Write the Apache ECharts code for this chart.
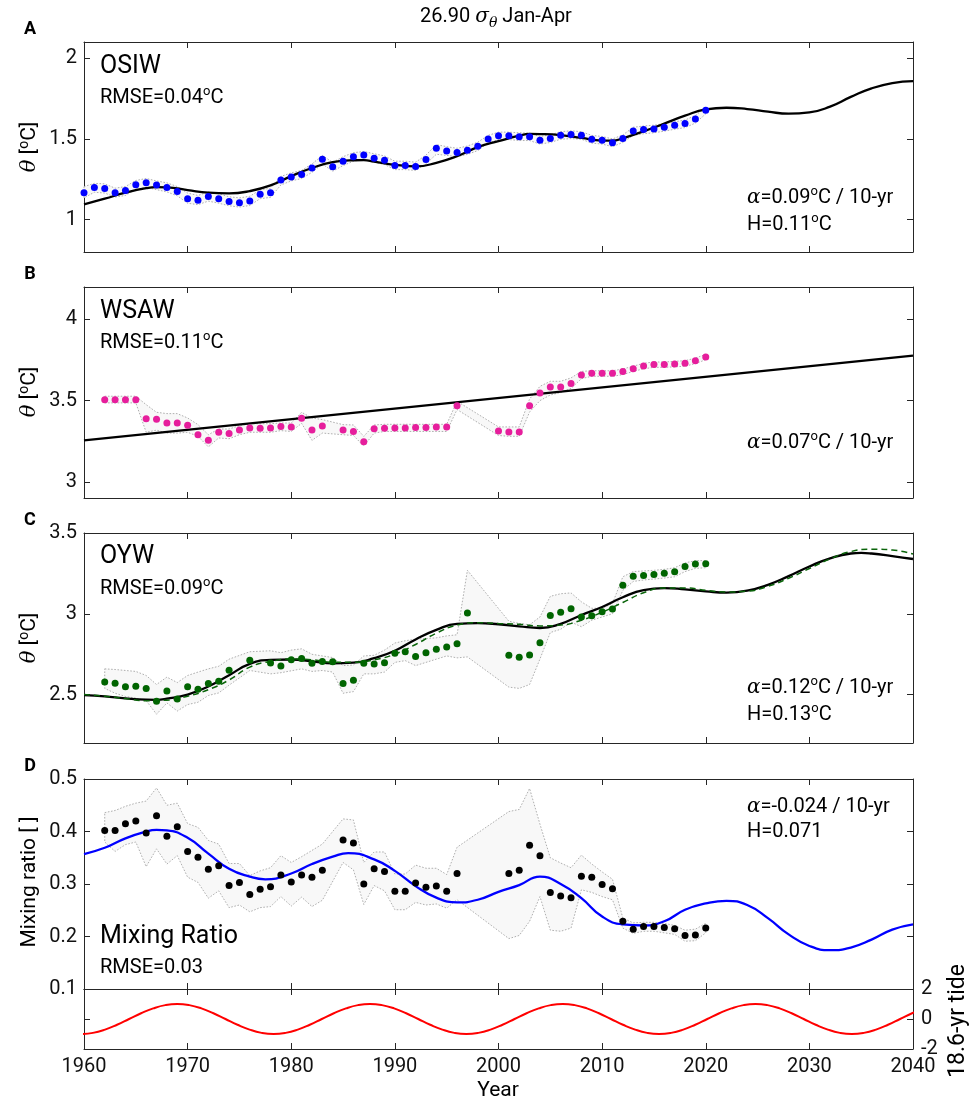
<!DOCTYPE html>
<html>
<head>
<meta charset="utf-8">
<script src="https://cdn.jsdelivr.net/npm/echarts@6/dist/echarts.min.js"></script>
<style>
  html, body { margin: 0; padding: 0; background: #fff; }
  #chart { width: 974px; height: 1109px; }
</style>
</head>
<body>
<div id="chart"></div>
<script>
// ---- data ----
const fitYears = [1960,1962,1964,1966,1968,1970,1972,1974,1976,1978,1980,1982,1984,1986,1988,1990,1992,1994,1996,1998,
  2000,2002,2004,2006,2008,2010,2012,2014,2016,2018,2020,2022,2024,2026,2028,2030,2032,2034,2036,2038,2040];

// A: OSIW
const yearsA = [1960,1961,1962,1963,1964,1965,1966,1967,1968,1969,1970,1971,1972,1973,1974,1975,1976,1977,1978,1979,
  1980,1981,1982,1983,1984,1985,1986,1987,1988,1989,1990,1991,1992,1993,1994,1995,1996,1997,1998,1999,
  2000,2001,2002,2003,2004,2005,2006,2007,2008,2009,2010,2011,2012,2013,2014,2015,2016,2017,2018,2019,2020];
const osiw = [1.167,1.200,1.193,1.167,1.180,1.216,1.228,1.214,1.200,1.175,1.130,1.120,1.144,1.130,1.113,1.105,1.115,1.158,1.167,1.245,
  1.265,1.280,1.320,1.374,1.327,1.362,1.389,1.400,1.380,1.368,1.335,1.335,1.330,1.372,1.442,1.426,1.416,1.430,1.455,1.500,
  1.520,1.520,1.514,1.514,1.492,1.502,1.523,1.527,1.523,1.498,1.492,1.477,1.502,1.549,1.558,1.562,1.572,1.584,1.595,1.623,1.677];
const osiwHi = [1.205,1.225,1.222,1.195,1.205,1.243,1.255,1.240,1.228,1.205,1.165,1.150,1.172,1.160,1.142,1.135,1.145,1.185,1.195,1.268,
  1.290,1.305,1.345,1.398,1.355,1.390,1.415,1.422,1.408,1.395,1.362,1.362,1.356,1.400,1.465,1.452,1.442,1.456,1.480,1.522,
  1.542,1.542,1.538,1.536,1.515,1.525,1.545,1.550,1.545,1.522,1.515,1.500,1.525,1.572,1.580,1.585,1.595,1.606,1.617,1.645,1.695];
const osiwLo = [1.135,1.170,1.165,1.140,1.150,1.188,1.200,1.186,1.172,1.148,1.102,1.093,1.115,1.102,1.086,1.078,1.088,1.130,1.138,1.215,
  1.240,1.255,1.293,1.345,1.300,1.335,1.362,1.374,1.355,1.342,1.310,1.310,1.305,1.345,1.405,1.398,1.390,1.404,1.428,1.475,
  1.496,1.496,1.490,1.490,1.468,1.478,1.498,1.502,1.498,1.474,1.468,1.452,1.478,1.522,1.532,1.538,1.548,1.560,1.570,1.598,1.655];
const osiwFitYears = [1960,1962,1964,1966,1967,1968,1970,1972,1974,1976,1978,1980,1982,1984,1986,1987,1988,1990,1992,1994,1996,1998,
  2000,2002,2003,2004,2006,2008,2010,2011,2012,2014,2016,2018,2020,2022,2024,2026,2028,2030,2032,2034,2036,2038,2040];
const osiwFit = [1.095,1.130,1.167,1.195,1.201,1.200,1.183,1.167,1.163,1.177,1.212,1.270,1.320,1.356,1.368,1.369,1.360,1.340,1.330,1.352,1.393,1.449,
  1.486,1.520,1.531,1.530,1.523,1.506,1.490,1.489,1.504,1.547,1.595,1.644,1.683,1.693,1.685,1.669,1.656,1.664,1.700,1.760,1.813,1.846,1.858];

// B: WSAW
const yearsB = [1962,1963,1964,1965,1966,1967,1968,1969,1970,1971,1972,1973,1974,1975,1976,1977,1978,1979,1980,1981,1982,1983,
  1985,1986,1987,1988,1989,1990,1991,1992,1993,1994,1995,1996,
  2000,2001,2002,2003,2004,2005,2006,2007,2008,2009,2010,2011,2012,2013,2014,2015,2016,2017,2018,2019,2020];
const wsaw = [3.506,3.506,3.506,3.506,3.389,3.385,3.362,3.362,3.348,3.289,3.256,3.305,3.297,3.319,3.332,3.330,3.332,3.340,3.338,3.391,3.319,3.344,
  3.319,3.309,3.247,3.327,3.330,3.332,3.332,3.334,3.334,3.338,3.338,3.469,
  3.313,3.307,3.307,3.469,3.547,3.584,3.584,3.605,3.658,3.668,3.668,3.668,3.679,3.697,3.714,3.722,3.722,3.726,3.730,3.746,3.769];
const wsawHi = [3.527,3.527,3.527,3.527,3.475,3.428,3.420,3.420,3.393,3.352,3.290,3.325,3.325,3.346,3.358,3.358,3.358,3.362,3.362,3.428,3.393,3.383,
  3.352,3.350,3.280,3.350,3.354,3.354,3.354,3.354,3.354,3.354,3.354,3.496,
  3.338,3.338,3.338,3.510,3.588,3.619,3.619,3.640,3.680,3.684,3.684,3.684,3.695,3.712,3.730,3.738,3.738,3.742,3.746,3.762,3.785];
const wsawLo = [3.486,3.486,3.486,3.486,3.305,3.318,3.300,3.300,3.305,3.280,3.215,3.270,3.265,3.290,3.305,3.305,3.305,3.315,3.310,3.360,3.255,3.300,
  3.290,3.285,3.220,3.300,3.310,3.310,3.310,3.310,3.310,3.310,3.310,3.445,
  3.285,3.280,3.280,3.430,3.500,3.535,3.550,3.575,3.635,3.650,3.650,3.650,3.660,3.680,3.696,3.705,3.705,3.708,3.712,3.728,3.752];
const wsawTrendX = [1960, 2040];
const wsawTrend = [3.255, 3.777];

// C: OYW
const yearsC = [1962,1963,1964,1965,1966,1967,1968,1969,1970,1971,1972,1973,1974,1976,
  1978,1979,1980,1981,1982,1983,1984,1985,1986,1987,1988,1989,1990,1991,1992,1993,1994,1995,1996,1997,
  2001,2002,2003,2004,2005,2006,2007,2008,2009,2010,2011,2012,2013,2014,2015,2016,2017,2018,2019,2020];
const oyw = [2.578,2.570,2.548,2.552,2.538,2.458,2.522,2.472,2.548,2.532,2.568,2.582,2.650,2.713,
  2.695,2.677,2.715,2.723,2.693,2.705,2.703,2.568,2.588,2.693,2.689,2.697,2.755,2.765,2.735,2.759,2.781,2.795,2.815,3.004,
  2.743,2.731,2.745,2.821,2.990,3.010,3.031,2.980,2.988,3.012,3.030,3.177,3.233,3.237,3.243,3.251,3.260,3.293,3.308,3.309];
const oywHi = [2.659,2.655,2.649,2.643,2.618,2.562,2.608,2.574,2.618,2.639,2.659,2.675,2.719,2.765,
  2.771,2.759,2.775,2.783,2.749,2.739,2.729,2.679,2.683,2.739,2.743,2.775,2.819,2.833,2.843,2.847,2.851,2.863,2.870,3.269,
  2.954,2.940,2.932,2.980,3.108,3.124,3.129,3.074,3.034,3.034,3.064,3.229,3.261,3.265,3.269,3.275,3.285,3.315,3.329,3.329];
const oywLo = [2.538,2.508,2.488,2.478,2.462,2.378,2.448,2.398,2.438,2.452,2.494,2.510,2.558,2.649,
  2.628,2.635,2.647,2.659,2.643,2.649,2.639,2.508,2.518,2.628,2.628,2.639,2.699,2.710,2.679,2.699,2.719,2.739,2.727,2.733,
  2.546,2.538,2.562,2.720,2.884,2.904,2.948,2.920,2.960,2.980,3.000,3.145,3.200,3.209,3.215,3.221,3.229,3.261,3.281,3.285];
const oywFitYears = [1960,1962,1964,1966,1967,1968,1970,1972,1974,1976,1978,1980,1982,1984,1986,1988,1990,1992,1994,1996,1998,
  2000,2002,2004,2006,2008,2010,2012,2014,2016,2018,2020,2022,2024,2026,2028,2030,2032,2034,2035,2036,2038,2040];
const oywFit = [2.496,2.488,2.476,2.468,2.467,2.474,2.500,2.550,2.620,2.690,2.715,2.717,2.705,2.693,2.697,2.725,2.771,2.841,2.900,2.938,2.942,
  2.935,2.922,2.912,2.938,2.992,3.042,3.102,3.147,3.159,3.151,3.139,3.131,3.143,3.179,3.233,3.293,3.343,3.373,3.377,3.373,3.357,3.339];
const oywFit2 = [2.500,2.490,2.475,2.462,2.465,2.490,2.530,2.590,2.670,2.705,2.720,2.715,2.700,2.700,2.715,2.750,2.810,2.880,2.930,2.945,
  2.940,2.935,2.925,2.930,2.960,3.010,3.070,3.130,3.160,3.160,3.145,3.135,3.140,3.170,3.220,3.280,3.340,3.385,3.400,3.395,3.370];

// D: mixing ratio
const yearsD = [1962,1963,1964,1965,1966,1967,1968,1969,1970,1971,1972,1973,1974,1975,1976,1977,1978,1979,1980,1981,1982,1983,
  1985,1986,1987,1988,1989,1990,1991,1992,1993,1994,1995,1996,
  2001,2002,2003,2004,2005,2006,2007,2008,2009,2010,2011,2012,2013,2014,2015,2016,2017,2018,2019,2020];
const mix = [0.402,0.402,0.415,0.420,0.397,0.430,0.391,0.409,0.362,0.351,0.328,0.335,0.297,0.303,0.280,0.290,0.295,0.317,0.304,0.317,0.313,0.326,
  0.384,0.378,0.300,0.329,0.324,0.286,0.286,0.302,0.294,0.296,0.286,0.320,
  0.320,0.326,0.374,0.354,0.284,0.277,0.274,0.315,0.313,0.299,0.291,0.229,0.214,0.219,0.219,0.217,0.215,0.202,0.203,0.216];
const mixHi = [0.436,0.440,0.448,0.454,0.458,0.483,0.450,0.454,0.415,0.408,0.383,0.376,0.339,0.339,0.316,0.325,0.331,0.354,0.341,0.352,0.364,0.376,
  0.424,0.422,0.341,0.361,0.361,0.319,0.319,0.336,0.330,0.330,0.318,0.370,
  0.438,0.442,0.482,0.414,0.350,0.340,0.331,0.355,0.338,0.323,0.309,0.235,0.226,0.227,0.227,0.225,0.221,0.212,0.214,0.225];
const mixLo = [0.380,0.362,0.375,0.380,0.333,0.367,0.338,0.354,0.313,0.303,0.273,0.287,0.255,0.260,0.247,0.255,0.257,0.276,0.258,0.275,0.257,0.269,
  0.341,0.327,0.261,0.297,0.287,0.251,0.251,0.265,0.260,0.262,0.254,0.270,
  0.196,0.202,0.229,0.276,0.212,0.210,0.216,0.289,0.284,0.276,0.270,0.216,0.206,0.210,0.210,0.207,0.204,0.191,0.192,0.207];
const mixFitYears = [1960,1962,1964,1966,1967,1968,1970,1972,1974,1976,1977.5,1980,1982,1984,1985.5,1988,1990,1992,1994,1996,1998,
  2000,2002,2004,2006,2008,2010,2012,2014,2016,2018,2020,2022,2024,2026,2028,2030,2032,2034,2036,2038,2040];
const mixFit = [0.357,0.369,0.387,0.400,0.403,0.402,0.388,0.358,0.329,0.314,0.309,0.320,0.338,0.352,0.359,0.347,0.325,0.296,0.274,0.265,0.270,
  0.285,0.298,0.314,0.300,0.273,0.238,0.223,0.221,0.229,0.251,0.263,0.268,0.260,0.235,0.204,0.182,0.174,0.179,0.194,0.213,0.223];

// 18.6-yr tide, read every 1/16 of a cycle starting at the 1959.7 trough
const tideYears = [1959.70,1960.86,1962.03,1963.19,1964.35,1965.51,1966.68,1967.84,1969.00,1970.16,1971.33,1972.49,
  1973.65,1974.81,1975.98,1977.14,1978.30,1979.46,1980.63,1981.79,1982.95,1984.11,1985.28,1986.44,
  1987.60,1988.76,1989.93,1991.09,1992.25,1993.41,1994.58,1995.74,1996.90,1998.06,1999.23,2000.39,
  2001.55,2002.71,2003.88,2005.04,2006.20,2007.36,2008.53,2009.69,2010.85,2012.01,2013.18,2014.34,
  2015.50,2016.66,2017.83,2018.99,2020.15,2021.31,2022.48,2023.64,2024.80,2025.96,2027.13,2028.29,
  2029.45,2030.61,2031.78,2032.94,2034.10,2035.26,2036.43,2037.59,2038.75,2039.91,2041.08];
const tide = [-1,-0.924,-0.707,-0.383,0,0.383,0.707,0.924,1,0.924,0.707,0.383,
  0,-0.383,-0.707,-0.924,-1,-0.924,-0.707,-0.383,0,0.383,0.707,0.924,
  1,0.924,0.707,0.383,0,-0.383,-0.707,-0.924,-1,-0.924,-0.707,-0.383,
  0,0.383,0.707,0.924,1,0.924,0.707,0.383,0,-0.383,-0.707,-0.924,
  -1,-0.924,-0.707,-0.383,0,0.383,0.707,0.924,1,0.924,0.707,0.383,
  0,-0.383,-0.707,-0.924,-1,-0.924,-0.707,-0.383,0,0.383,0.707];

// ---- layout ----
const FONT = 'Roboto, "Noto Sans", sans-serif';
const GREEK = '"DejaVu Serif", serif';
const AX = '#262626';
const L = 84, W = 829;
const grids = [
  { left: L, top: 42, width: W, height: 210 },
  { left: L, top: 287, width: W, height: 211 },
  { left: L, top: 533, width: W, height: 210 },
  { left: L, top: 779, width: W, height: 210 },
  { left: L, top: 989, width: W, height: 60 }
];
const yRanges = [
  { min: 0.8, max: 2.1, ticks: [1, 1.5, 2] },
  { min: 2.9, max: 4.2, ticks: [3, 3.5, 4] },
  { min: 2.2, max: 3.5, ticks: [2.5, 3, 3.5] },
  { min: 0.1, max: 0.5, ticks: [0.1, 0.2, 0.3, 0.4, 0.5] },
  { min: -2, max: 2, ticks: [-2, 0, 2] }
];

const pairs = (xs, ys) => xs.map((x, i) => [x, ys[i]]);
const tick = { inside: true, length: 6, lineStyle: { color: AX } };
const line = { show: true, onZero: false, lineStyle: { color: AX, width: 1 } };
const lab = { fontFamily: FONT, fontSize: 20, color: '#111' };

const xAxis = [], yAxis = [];
grids.forEach((g, i) => {
  const last = i === 4;
  xAxis.push({
    type: 'value', gridIndex: i, position: 'bottom', min: 1960, max: 2040, interval: 10,
    axisLine: line, axisTick: tick, splitLine: { show: false },
    axisLabel: Object.assign({ show: last, margin: 8, formatter: v => String(v) }, lab)
  });
  xAxis.push({
    type: 'value', gridIndex: i, position: 'top', min: 1960, max: 2040, interval: 10,
    axisLine: line, axisTick: tick, splitLine: { show: false }, axisLabel: { show: false }
  });
  const r = yRanges[i];
  const fmt = i === 3 ? (v => v.toFixed(1)) : (v => String(v));
  yAxis.push({
    type: 'value', gridIndex: i, position: 'left', min: r.min, max: r.max,
    axisLine: line, splitLine: { show: false },
    axisTick: Object.assign({ customValues: last ? [0] : r.ticks }, tick),
    axisLabel: Object.assign({ show: !last, customValues: r.ticks, formatter: fmt, margin: 7 }, lab)
  });
  yAxis.push({
    type: 'value', gridIndex: i, position: 'right', min: r.min, max: r.max,
    axisLine: line, splitLine: { show: false },
    axisTick: Object.assign({ customValues: r.ticks }, tick),
    axisLabel: Object.assign({ show: last, customValues: r.ticks, margin: 8 }, lab)
  });
});

function band(i, years, hi, lo) {
  return {
    type: 'custom', xAxisIndex: i * 2, yAxisIndex: i * 2, silent: true, z: 1,
    data: [[years[0], hi[0]]],
    renderItem: (params, api) => {
      const pts = [];
      for (let k = 0; k < years.length; k++) pts.push(api.coord([years[k], hi[k]]));
      for (let k = years.length - 1; k >= 0; k--) pts.push(api.coord([years[k], lo[k]]));
      return {
        type: 'polygon', shape: { points: pts },
        style: { fill: '#f8f8f8', stroke: '#9c9c9c', lineWidth: 0.8, lineDash: [1.6, 1.6] }
      };
    }
  };
}
function curve(i, xs, ys, color, width, dash) {
  return {
    type: 'line', xAxisIndex: i * 2, yAxisIndex: i * 2, data: pairs(xs, ys),
    smooth: true, symbol: 'none', z: 4, silent: true,
    lineStyle: { color, width, type: dash || 'solid' }
  };
}
function dots(i, xs, ys, color) {
  return {
    type: 'scatter', xAxisIndex: i * 2, yAxisIndex: i * 2, data: pairs(xs, ys),
    symbolSize: 7, z: 5, itemStyle: { color, opacity: 1 }
  };
}

const series = [
  band(0, yearsA, osiwHi, osiwLo),
  curve(0, osiwFitYears, osiwFit, '#000', 2.3),
  dots(0, yearsA, osiw, '#0000ff'),

  band(1, yearsB, wsawHi, wsawLo),
  curve(1, wsawTrendX, wsawTrend, '#000', 2.3),
  dots(1, yearsB, wsaw, '#e61e9c'),

  band(2, yearsC, oywHi, oywLo),
  curve(2, oywFitYears, oywFit, '#000', 2.3),
  curve(2, fitYears, oywFit2, '#0a640a', 1.5, [6, 4]),
  dots(2, yearsC, oyw, '#006400'),

  band(3, yearsD, mixHi, mixLo),
  curve(3, mixFitYears, mixFit, '#0000ff', 2.3),
  dots(3, yearsD, mix, '#000'),

  curve(4, tideYears, tide, '#ff0000', 2)
];

// ---- text ----
function richFor(size) {
  return {
    g: { fontFamily: GREEK, fontStyle: 'italic', fontSize: size, lineHeight: 26, fill: '#000' },
    s: { fontFamily: FONT, fontSize: Math.round(size * 0.65), lineHeight: 12, verticalAlign: 'top', fill: '#000' },
    b: { fontFamily: GREEK, fontStyle: 'italic', fontSize: Math.round(size * 0.68), lineHeight: 12, verticalAlign: 'bottom', fill: '#000' }
  };
}
function txt(x, y, text, size, opts) {
  opts = opts || {};
  return {
    type: 'text', x, y, rotation: opts.rot || 0, silent: true,
    style: {
      text, rich: richFor(size), fill: '#000', fontFamily: FONT, fontSize: size,
      fontWeight: opts.bold ? 'bold' : 'normal',
      lineHeight: 26, align: opts.align || 'left', verticalAlign: 'middle'
    }
  };
}
const graphic = [
  txt(496, 17, '26.90 {g|σ}{b|θ} Jan-Apr', 20, { align: 'center' }),
  txt(30, 29, 'A', 18, { bold: true, align: 'center' }),
  txt(30, 274, 'B', 18, { bold: true, align: 'center' }),
  txt(30, 520, 'C', 18, { bold: true, align: 'center' }),
  txt(30, 766, 'D', 18, { bold: true, align: 'center' }),

  txt(30, 147, '{g|θ} [{s|o}C]', 21, { rot: Math.PI / 2, align: 'center' }),
  txt(30, 392, '{g|θ} [{s|o}C]', 21, { rot: Math.PI / 2, align: 'center' }),
  txt(30, 638, '{g|θ} [{s|o}C]', 21, { rot: Math.PI / 2, align: 'center' }),
  txt(30, 882, 'Mixing ratio [ ]', 21, { rot: Math.PI / 2, align: 'center' }),
  txt(958, 1021, '18.6-yr tide', 23, { rot: Math.PI / 2, align: 'center' }),
  txt(498, 1091, 'Year', 21, { align: 'center' }),

  txt(100, 67, 'OSIW', 25),
  txt(100, 98, 'RMSE=0.04{s|o}C', 20),
  txt(747, 198, '{g|α}=0.09{s|o}C / 10-yr', 20),
  txt(747, 225, 'H=0.11{s|o}C', 20),

  txt(100, 312, 'WSAW', 25),
  txt(100, 343, 'RMSE=0.11{s|o}C', 20),
  txt(747, 443, '{g|α}=0.07{s|o}C / 10-yr', 20),

  txt(100, 557, 'OYW', 25),
  txt(100, 589, 'RMSE=0.09{s|o}C', 20),
  txt(747, 688, '{g|α}=0.12{s|o}C / 10-yr', 20),
  txt(747, 715, 'H=0.13{s|o}C', 20),

  txt(747, 807, '{g|α}=-0.024 / 10-yr', 20),
  txt(747, 832, 'H=0.071', 20),
  txt(100, 937, 'Mixing Ratio', 25),
  txt(100, 968, 'RMSE=0.03', 20)
];

const chart = echarts.init(document.getElementById('chart'), null, { renderer: 'canvas' });
chart.setOption({
  animation: false,
  backgroundColor: '#fff',
  grid: grids,
  xAxis,
  yAxis,
  series,
  graphic
});
</script>
</body>
</html>
